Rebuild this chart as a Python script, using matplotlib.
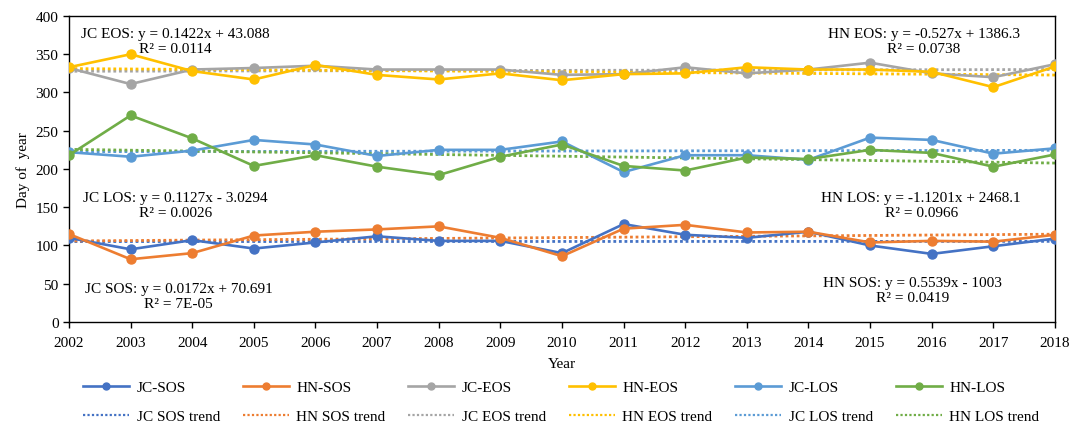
import numpy as np
import matplotlib
matplotlib.use("Agg")
import matplotlib.pyplot as plt
from matplotlib.lines import Line2D

plt.rcParams['font.family'] = ['Liberation Serif', 'DejaVu Serif']

years = np.arange(2002, 2019)

jc_sos = [110, 95, 107, 96, 104, 112, 106, 106, 90, 128, 114, 110, 118, 100, 89, 99, 109]
hn_sos = [115, 82, 90, 113, 118, 121, 125, 110, 86, 122, 127, 117, 118, 104, 106, 105, 114]
jc_eos = [332, 311, 330, 332, 335, 330, 330, 330, 323, 324, 333, 325, 330, 339, 325, 320, 337]
hn_eos = [333, 350, 328, 317, 336, 323, 317, 325, 316, 324, 325, 333, 330, 330, 327, 307, 334]
jc_los = [222, 216, 224, 238, 232, 217, 225, 225, 236, 196, 218, 218, 212, 241, 238, 220, 227]
hn_los = [218, 270, 240, 204, 218, 203, 192, 216, 232, 204, 198, 215, 213, 225, 221, 203, 219]

# linear trend coefficients (slope, intercept) and R^2
trend_jc_sos = (0.0172, 70.691, '7E-05')
trend_hn_sos = (0.5539, -1003, '0.0419')
trend_jc_eos = (0.1422, 43.088, '0.0114')
trend_hn_eos = (-0.527, 1386.3, '0.0738')
trend_jc_los = (0.1127, -3.0294, '0.0026')
trend_hn_los = (-1.1201, 2468.1, '0.0966')

series = [
    ('JC-SOS', 'JC SOS trend', jc_sos, trend_jc_sos, '#4472C4'),
    ('HN-SOS', 'HN SOS trend', hn_sos, trend_hn_sos, '#ED7D31'),
    ('JC-EOS', 'JC EOS trend', jc_eos, trend_jc_eos, '#A5A5A5'),
    ('HN-EOS', 'HN EOS trend', hn_eos, trend_hn_eos, '#FFC000'),
    ('JC-LOS', 'JC LOS trend', jc_los, trend_jc_los, '#5B9BD5'),
    ('HN-LOS', 'HN LOS trend', hn_los, trend_hn_los, '#70AD47'),
]

fig = plt.figure(figsize=(10.69, 4.27), dpi=100)
ax = fig.add_axes([0.0645, 0.2436, 0.9224, 0.7166])

handles = []
labels = []
for name, tname, vals, (k, b, r2), col in series:
    ax.plot(years, vals, color=col, lw=1.9, marker='o', ms=6.5, zorder=3)
    ax.plot(years, k * years + b, color=col, lw=2, ls=(0, (1, 1)), zorder=2)
    handles.append(Line2D([], [], color=col, lw=1.9, marker='o', ms=5))
    labels.append(name)
    handles.append(Line2D([], [], color=col, lw=1.6, ls=(0, (1, 1))))
    labels.append(tname)

def eq_text(tag, tr):
    k, b, r2 = tr
    sign = '+' if b >= 0 else '-'
    return f'{tag}: y = {k:g}x {sign} {abs(b):g}\nR² = {r2}'

txt_kw = dict(fontsize=11, ha='center', va='center', linespacing=1.25, zorder=4)
ax.text(2003.73, 367, eq_text('JC EOS', trend_jc_eos), **txt_kw)
ax.text(2015.87, 367, eq_text('HN EOS', trend_hn_eos), **txt_kw)
ax.text(2003.73, 153, eq_text('JC LOS', trend_jc_los), **txt_kw)
ax.text(2015.83, 153, eq_text('HN LOS', trend_hn_los), **txt_kw)
ax.text(2003.78, 34, eq_text('JC SOS', trend_jc_sos), **txt_kw)
ax.text(2015.69, 42, eq_text('HN SOS', trend_hn_sos), **txt_kw)

ax.set_xlim(2002, 2018)
ax.set_ylim(0, 400)
ax.set_xticks(years)
ax.set_yticks(np.arange(0, 401, 50))
ax.tick_params(labelsize=11, direction='out', length=4, width=1)
ax.tick_params(axis='x', pad=6)
for sp in ax.spines.values():
    sp.set_linewidth(1)
ax.set_xlabel('Year', fontsize=11, labelpad=6)
ax.set_ylabel('Day of  year', fontsize=11, labelpad=4)

fig.legend(handles, labels, ncol=6, loc='center', bbox_to_anchor=(0.525, 0.056),
           frameon=False, fontsize=11, handlelength=3.0, handletextpad=0.5,
           columnspacing=1.5, labelspacing=1.0)

fig.savefig('out.png', dpi=100)
